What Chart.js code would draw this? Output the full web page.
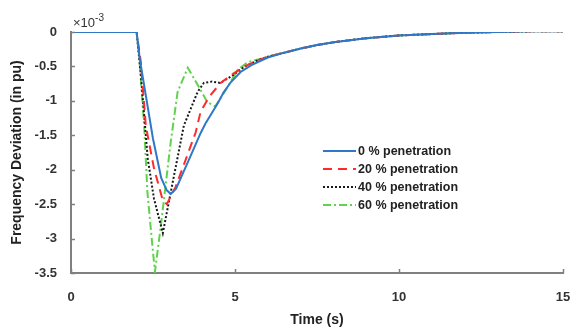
<!DOCTYPE html>
<html>
<head>
<meta charset="utf-8">
<script src="https://cdn.jsdelivr.net/npm/chart.js@4.4.1/dist/chart.umd.min.js"></script>
<style>
  html, body { margin: 0; padding: 0; background: #fff; }
  #wrap { width: 575px; height: 331px; position: relative; }
</style>
</head>
<body>
<div id="wrap"><canvas id="c" width="575" height="331"></canvas></div>
<script>
// ---- Data (frequency deviation in units of 1e-3 pu) ----
const seriesLabels = ['0 % penetration', '20 % penetration', '40 % penetration', '60 % penetration'];

const tail_t = [6.5, 7, 7.5, 8, 9, 10, 11, 12, 13, 14, 15];
const tail_v = [-0.30, -0.24, -0.19, -0.15, -0.09, -0.05, -0.03, -0.01, 0.0, 0.01, 0.01];

const t0 = [0, 2.0, 2.1, 2.5, 2.75, 2.92, 3.04, 3.2, 3.6, 3.95, 4.1, 4.47, 4.65, 4.87, 5.17, 5.5, 6.0];
const v0 = [0, 0, -0.4, -1.55, -2.12, -2.3, -2.35, -2.28, -1.85, -1.47, -1.33, -1.04, -0.88, -0.73, -0.58, -0.48, -0.37];

const t20 = [0, 2.0, 2.13, 2.28, 2.53, 2.8, 2.92, 3.19, 3.5, 3.8, 3.95, 4.2, 4.56, 4.96, 5.3, 5.7, 6.0];
const v20 = [0, 0, -0.44, -1.36, -1.98, -2.45, -2.5, -2.25, -1.85, -1.46, -1.16, -0.95, -0.74, -0.6, -0.5, -0.41, -0.36];

const t40 = [0, 2.0, 2.13, 2.34, 2.53, 2.8, 3.04, 3.44, 3.86, 4.05, 4.3, 4.55, 4.9, 5.3, 5.7, 6.0];
const v40 = [0, 0, -0.63, -1.84, -2.42, -2.92, -2.33, -1.36, -0.87, -0.74, -0.72, -0.74, -0.64, -0.5, -0.41, -0.36];

const t60 = [0, 2.0, 2.07, 2.23, 2.33, 2.5, 2.56, 2.74, 3.04, 3.25, 3.56, 3.9, 4.16, 4.4, 4.77, 5.08, 5.38, 5.87, 6.0];
const v60 = [0, 0, -0.29, -1.36, -2.33, -3.2, -3.48, -2.81, -1.6, -0.87, -0.52, -0.8, -1.02, -1.08, -0.8, -0.55, -0.44, -0.38, -0.36];

const xTicks = [0, 5, 10, 15];
const yTicks = [0, -0.5, -1, -1.5, -2, -2.5, -3, -3.5];

function pts(t, v) {
  const a = t.map((x, i) => ({x: x, y: v[i]}));
  return a.concat(tail_t.map((x, i) => ({x: x, y: tail_v[i]})));
}

const styles = [
  {color: '#2f78c8', dash: [], width: 2},
  {color: '#ff2b2b', dash: [9, 6], width: 2},
  {color: '#1a1a1a', dash: [2, 2], width: 2},
  {color: '#5ed44a', dash: [8, 3, 2, 3], width: 2}
];
const seriesData = [pts(t0, v0), pts(t20, v20), pts(t40, v40), pts(t60, v60)];

const FONT = "'Liberation Sans', Arial, sans-serif";

const extras = {
  id: 'extras',
  afterDraw(chart) {
    const ctx = chart.ctx;
    const xs = chart.scales.x, ys = chart.scales.y;
    const ca = chart.chartArea;
    ctx.save();
    // inward tick marks
    ctx.strokeStyle = '#808080';
    ctx.lineWidth = 1.5;
    ctx.beginPath();
    yTicks.forEach(v => {
      const py = Math.round(ys.getPixelForValue(v)) + 0.5;
      ctx.moveTo(ca.left, py); ctx.lineTo(ca.left + 4, py);
    });
    xTicks.forEach(v => {
      const px = Math.round(xs.getPixelForValue(v)) + 0.5;
      ctx.moveTo(px, ca.bottom); ctx.lineTo(px, ca.bottom - 4);
    });
    ctx.stroke();
    // exponent label
    ctx.fillStyle = '#333';
    ctx.textBaseline = 'alphabetic';
    ctx.textAlign = 'left';
    ctx.font = '13px ' + FONT;
    ctx.fillText('\u00d710', ca.left + 2, ca.top - 5);
    const w = ctx.measureText('\u00d710').width;
    ctx.font = '10px ' + FONT;
    ctx.fillText('-3', ca.left + 2 + w, ca.top - 11);
    // legend
    const lx0 = 323, lx1 = 356, tx = 358;
    const rows = [151, 169, 187, 205];
    chart.data.datasets.forEach((ds, i) => {
      const y = rows[i];
      ctx.strokeStyle = ds.borderColor;
      ctx.lineWidth = ds.borderWidth;
      ctx.setLineDash(ds.borderDash || []);
      ctx.beginPath();
      ctx.moveTo(lx0, y); ctx.lineTo(lx1, y);
      ctx.stroke();
      ctx.setLineDash([]);
      ctx.fillStyle = '#222';
      ctx.font = 'bold 12.5px ' + FONT;
      ctx.textBaseline = 'middle';
      ctx.fillText(ds.label, tx, y + 0.5);
    });
    ctx.restore();
  }
};

new Chart(document.getElementById('c'), {
  type: 'line',
  data: {
    datasets: seriesLabels.map((lab, i) => ({
      label: lab,
      data: seriesData[i],
      borderColor: styles[i].color,
      borderDash: styles[i].dash,
      borderWidth: styles[i].width,
      pointRadius: 0,
      tension: 0,
      fill: false
    }))
  },
  options: {
    responsive: false,
    animation: false,
    layout: { padding: { top: 32, right: 12, left: 0, bottom: 0 } },
    plugins: { legend: { display: false }, tooltip: { enabled: false } },
    scales: {
      x: {
        type: 'linear',
        min: 0, max: 15,
        afterBuildTicks: s => { s.ticks = xTicks.map(v => ({value: v})); },
        afterFit: s => { s.height = 58; s.paddingRight = 0; s.paddingLeft = 0; },
        grid: { display: false },
        border: { display: true, color: '#808080', width: 2 },
        ticks: { padding: 9, color: '#333', font: { family: FONT, size: 13, weight: 'bold' }, maxRotation: 0 },
        title: { display: true, text: 'Time (s)', color: '#222', padding: { top: 0, bottom: 2 },
                 font: { family: FONT, size: 14, weight: 'bold' } }
      },
      y: {
        type: 'linear',
        min: -3.5, max: 0,
        afterBuildTicks: s => { s.ticks = yTicks.map(v => ({value: v})); },
        afterFit: s => { s.width = 71; s.paddingTop = 0; s.paddingBottom = 0; },
        grid: { display: false },
        border: { display: true, color: '#808080', width: 2 },
        ticks: { padding: 6, color: '#333', font: { family: FONT, size: 13, weight: 'bold' },
                 callback: v => String(v) },
        title: { display: true, text: 'Frequency Deviation (in pu)', color: '#222', padding: { top: 9, bottom: 0 },
                 font: { family: FONT, size: 14, weight: 'bold' } }
      }
    }
  },
  plugins: [extras]
});
</script>
</body>
</html>
